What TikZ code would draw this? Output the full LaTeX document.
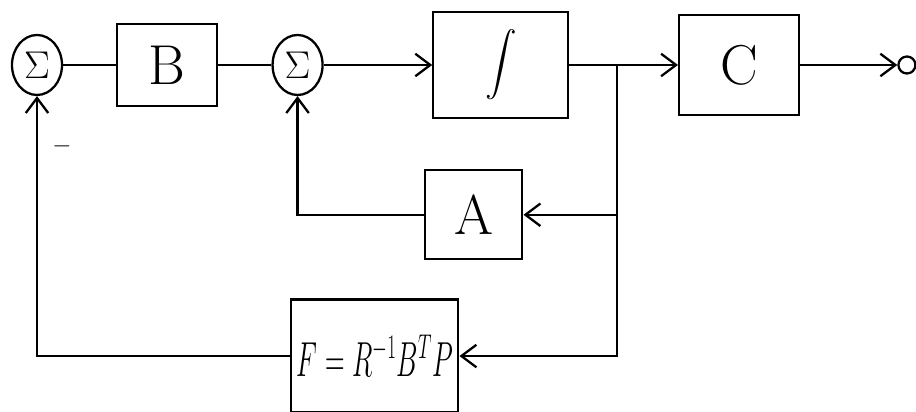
\documentclass[tikz,border=0pt]{standalone}
\usepackage{fix-cm}
\usepackage{graphicx}
\usepackage{tikz}
\usetikzlibrary{positioning,shapes.geometric,arrows.meta,calc}
\tikzset{
  blk/.style={rectangle,draw,line width=1.3pt,align=center,inner sep=2pt,
    font=\fontsize{32}{36}\selectfont},
  sumnd/.style={ellipse,draw,line width=1.3pt,minimum width=10mm,
    minimum height=12mm,inner sep=0pt,font=\fontsize{22}{24}\selectfont},
  outc/.style={circle,draw,line width=1.3pt,minimum size=3.4mm,inner sep=0pt},
  ln/.style={line width=1.3pt},
  fl/.style={-{Straight Barb[length=3mm,width=4.5mm]},line width=1.3pt},
}
\begin{document}
\begin{tikzpicture}[node distance=4mm and 10.6mm]
  \useasboundingbox (0,0) rectangle (18.32,8.24);
  \node[sumnd] (s1) at (0.74,6.94) {$\Sigma$};
  \node[blk,minimum width=20mm,minimum height=16.4mm,right=of s1] (b) {B};
  \node[sumnd,right=of b] (s2) {$\Sigma$};
  \node[blk,minimum width=27mm,minimum height=21.2mm,right=21.7mm of s2]
    (int) {\scalebox{1.8}{$\displaystyle\int$}};
  \node[blk,minimum width=24mm,minimum height=20mm,right=21.7mm of int] (c) {C};
  \node[outc,right=19.4mm of c] (out) {};
  \node[blk,minimum width=19.4mm,minimum height=17.8mm,below=10mm of int,
    xshift=-5.4mm] (a) {A};
  \node[blk,minimum width=33.4mm,minimum height=22.6mm,below=7.6mm of a,
    xshift=-19.8mm,font=\fontsize{28}{32}\selectfont] (f)
    {\scalebox{0.55}[1]{$F=R^{-1}B^{T}P$}};
  \node[font=\fontsize{14}{16}\selectfont] (neg)
    at ([xshift=5mm,yshift=-10mm]s1.south) {$-$};
  \coordinate[right=9.5mm of int.east] (br);
  % forward path
  \draw[ln] (s1)--(b); \draw[ln] (b)--(s2);
  \draw[fl] (s2)--(int); \draw[fl] (int)--(c); \draw[fl] (c)--(out);
  % feedback
  \draw[fl] (br) |- (a); \draw[fl] (br) |- (f);
  \draw[fl] (a) -| (s2); \draw[fl] (f) -| (s1);
\end{tikzpicture}
\end{document}
